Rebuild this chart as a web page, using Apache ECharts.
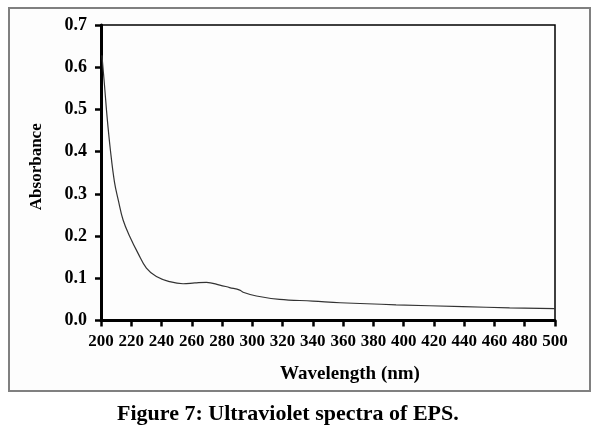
<!DOCTYPE html>
<html>
<head>
<meta charset="utf-8">
<script src="https://cdn.jsdelivr.net/npm/echarts@6/dist/echarts.min.js"></script>
<style>
html,body{margin:0;padding:0;background:#fff;}
#chart{width:596px;height:436px;}
</style>
</head>
<body>
<div id="chart"></div>
<script>
// Data
const wavelength = [200.6, 202.2, 204.0, 206.2, 208.9, 211.5, 214.6, 219.0, 224.5, 230.0, 236.6, 245.4, 254.2, 262, 269.7, 278.5, 285, 291.7, 293.9, 302.7, 318, 340, 358, 395, 439, 470, 500];
const absorbance = [0.628, 0.562, 0.483, 0.404, 0.328, 0.284, 0.238, 0.199, 0.159, 0.124, 0.104, 0.092, 0.087, 0.089, 0.0905, 0.084, 0.078, 0.072, 0.067, 0.058, 0.050, 0.046, 0.042, 0.037, 0.033, 0.030, 0.028];
const xTitle = 'Wavelength (nm)';
const yTitle = 'Absorbance';
const caption = 'Figure 7: Ultraviolet spectra of EPS.';

const FONT = "'Liberation Serif', 'Times New Roman', serif";
const seriesData = wavelength.map((w, i) => [w, absorbance[i]]);

const chart = echarts.init(document.getElementById('chart'), null, {renderer: 'canvas'});
chart.setOption({
  backgroundColor: '#ffffff',
  animation: false,
  grid: {
    left: 101, right: 41, top: 25, bottom: 115.5,
    show: true, borderColor: '#000', borderWidth: 1.5, backgroundColor: 'transparent'
  },
  xAxis: {
    type: 'value', min: 200, max: 500, interval: 20,
    name: xTitle, nameLocation: 'middle', nameGap: 44,
    nameTextStyle: {fontFamily: FONT, fontWeight: 'bold', fontSize: 19, color: '#000', padding: [0, 0, 0, 44]},
    axisLine: {show: true, lineStyle: {color: '#000', width: 3}},
    axisTick: {show: true, length: 6, lineStyle: {color: '#000', width: 2.5}},
    axisLabel: {fontFamily: FONT, fontWeight: 'bold', fontSize: 17, color: '#000', margin: 13, interval: 0, hideOverlap: false},
    splitLine: {show: false}
  },
  yAxis: {
    type: 'value', min: 0, max: 0.7, interval: 0.1,
    name: yTitle, nameLocation: 'middle', nameGap: 56, nameRotate: 90,
    nameTextStyle: {fontFamily: FONT, fontWeight: 'bold', fontSize: 17, color: '#000', padding: [0, 0, 0, 12]},
    axisLine: {show: true, lineStyle: {color: '#000', width: 3}},
    axisTick: {show: true, length: 6, lineStyle: {color: '#000', width: 2.5}},
    axisLabel: {fontFamily: FONT, fontWeight: 'bold', fontSize: 18, color: '#000', margin: 14,
      formatter: v => v.toFixed(1)},
    splitLine: {show: false}
  },
  series: [{
    type: 'line',
    data: seriesData,
    smooth: 0.4,
    showSymbol: false,
    lineStyle: {color: '#333', width: 1.2}
  }],
  graphic: [
    {type: 'rect', left: 8, top: 7, z: -10, silent: true,
      shape: {width: 581, height: 383},
      style: {fill: '#fdfdfd', stroke: '#808080', lineWidth: 2}},
    {type: 'text', left: 117, top: 403, silent: true,
      style: {text: caption, font: "bold 22px 'Liberation Serif', 'Times New Roman', serif", fill: '#000'}}
  ]
});
</script>
</body>
</html>
